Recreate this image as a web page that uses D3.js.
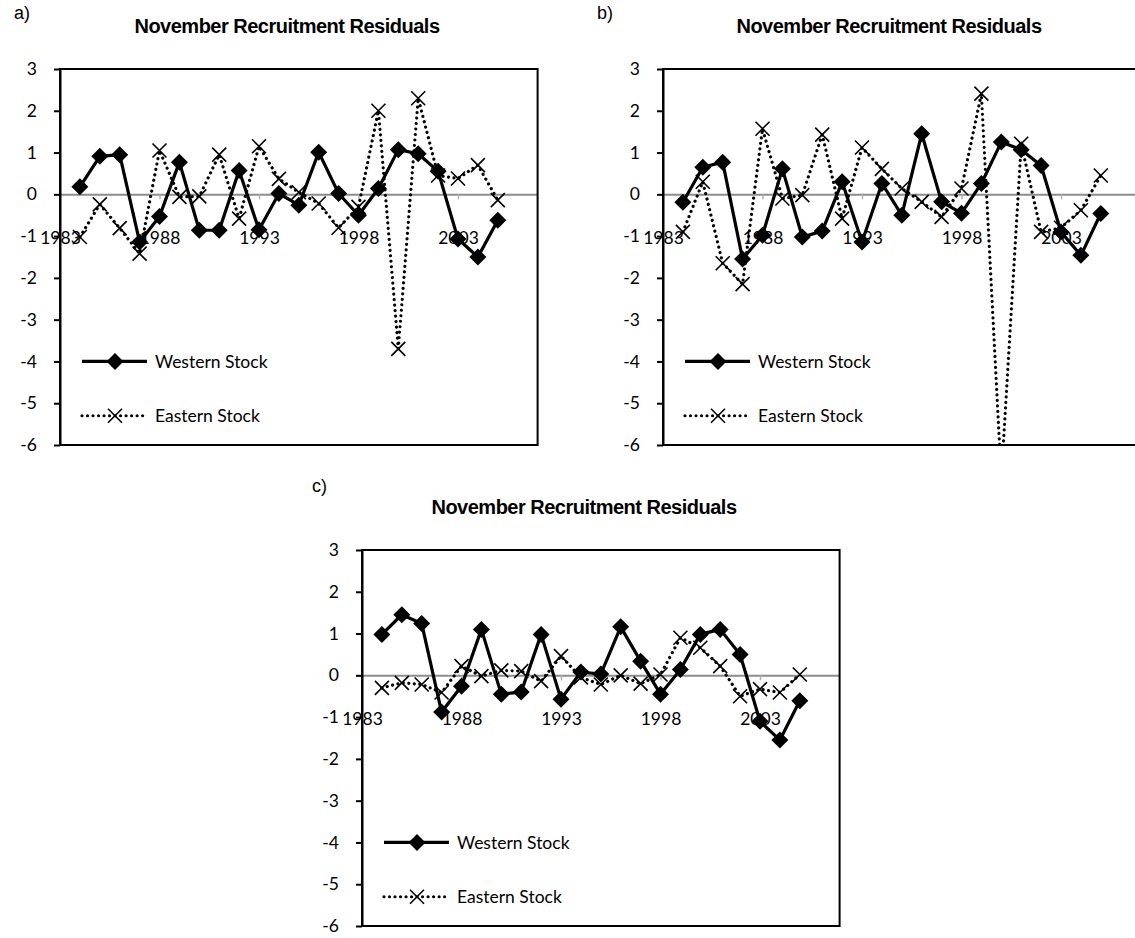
<!DOCTYPE html>
<html><head><meta charset="utf-8">
<script src="https://cdn.jsdelivr.net/npm/d3@7"></script>
<style>
html,body{margin:0;padding:0;background:#fff;}
svg{display:block;}
.tick text{font-family:Lato,"Open Sans",sans-serif;font-size:17.5px;fill:#000;}
</style>
</head><body>
<svg id="chart" width="1135" height="938"></svg>
<script>
// ---- data ----
const years = [1984,1985,1986,1987,1988,1989,1990,1991,1992,1993,1994,1995,1996,1997,1998,1999,2000,2001,2002,2003,2004,2005];
const tickYears = [1983,1988,1993,1998,2003];
const yTicks = [3,2,1,0,-1,-2,-3,-4,-5,-6];
const seriesNames = ["Western Stock","Eastern Stock"];
const panelLabels = ["a)","b)","c)"];
const chartTitle = "November Recruitment Residuals";

const westA = [0.18,0.91,0.95,-1.14,-0.53,0.77,-0.86,-0.86,0.57,-0.85,0.02,-0.26,1.01,0.02,-0.50,0.14,1.07,0.97,0.55,-1.07,-1.50,-0.62];
const eastA = [-1.02,-0.24,-0.81,-1.42,1.05,-0.06,-0.05,0.95,-0.58,1.15,0.37,0.05,-0.22,-0.80,-0.30,2.00,-3.70,2.30,0.45,0.38,0.70,-0.14];

const westB = [-0.19,0.65,0.77,-1.55,-0.98,0.61,-1.02,-0.88,0.30,-1.14,0.26,-0.50,1.45,-0.18,-0.45,0.26,1.25,1.07,0.69,-0.90,-1.46,-0.46];
const eastB = [-0.90,0.30,-1.65,-2.15,1.57,-0.10,-0.02,1.43,-0.58,1.12,0.61,0.14,-0.18,-0.54,0.14,2.41,-6.80,1.21,-0.90,-0.80,-0.38,0.45];

const westC = [0.98,1.45,1.24,-0.88,-0.26,1.10,-0.45,-0.40,0.98,-0.57,0.08,0.03,1.16,0.34,-0.45,0.14,0.98,1.10,0.50,-1.10,-1.55,-0.61];
const eastC = [-0.30,-0.18,-0.22,-0.41,0.22,-0.02,0.12,0.10,-0.14,0.46,-0.05,-0.22,0.00,-0.20,0.02,0.90,0.66,0.22,-0.50,-0.33,-0.41,0.02];

// ---- layout ----
const svg = d3.select("#chart");
const panels = [
  {label:panelLabels[0], lx:14, ly:19, tx:287, ty:33, ax:60,  top:69,  west:westA, east:eastA},
  {label:panelLabels[1], lx:597, ly:19, tx:889, ty:33, ax:663, top:69,  west:westB, east:eastB},
  {label:panelLabels[2], lx:312, ly:492, tx:584, ty:514, ax:362, top:550, west:westC, east:eastC}
];
const plotW = 477.6, plotH = 376;

function diamond(s){return `M0,${-s}L${s},0L0,${s}L${-s},0Z`;}
function cross(s){return `M${-s},${-s}L${s},${s}M${-s},${s}L${s},${-s}`;}

panels.forEach((p,i)=>{
  const g = svg.append("g");
  const x = d3.scaleLinear().domain([1983,2007]).range([p.ax, p.ax+plotW]);
  const y = d3.scaleLinear().domain([-6,3]).range([p.top+plotH, p.top]);

  g.append("text").attr("x",p.lx).attr("y",p.ly)
    .attr("font-family","Liberation Sans, Arial, sans-serif").attr("font-size",18).text(p.label);
  g.append("text").attr("x",p.tx).attr("y",p.ty).attr("text-anchor","middle")
    .attr("font-family","Liberation Sans, Arial, sans-serif").attr("font-weight","bold")
    .attr("font-size",20).attr("letter-spacing","-0.5").text(chartTitle);

  // x axis at zero (grey)
  const xa = g.append("g").attr("transform",`translate(0,${y(0)})`)
    .call(d3.axisBottom(x).tickValues(tickYears).tickFormat(d=>String(d)).tickSize(5).tickSizeOuter(0).tickPadding(32));
  xa.select(".domain").attr("stroke","#8c8c8c").attr("stroke-width",2);
  xa.selectAll(".tick line").attr("stroke","#b0b0b0").attr("stroke-width",1.5);

  // frame
  g.append("rect").attr("x",p.ax).attr("y",p.top).attr("width",plotW).attr("height",plotH)
    .attr("fill","none").attr("stroke","#000").attr("stroke-width",2);

  // y axis
  const ya = g.append("g").attr("transform",`translate(${p.ax},0)`)
    .call(d3.axisLeft(y).tickValues(yTicks).tickFormat(d=>String(d)).tickSize(6).tickSizeOuter(0).tickPadding(17));
  ya.select(".domain").attr("stroke","#000").attr("stroke-width",2);
  ya.selectAll(".tick line").attr("stroke","#000").attr("stroke-width",2);

  // clip
  const cid = "clip"+i;
  svg.append("clipPath").attr("id",cid).append("rect")
    .attr("x",p.ax-12).attr("y",p.top-12).attr("width",plotW+24).attr("height",plotH+12);
  const dg = g.append("g").attr("clip-path",`url(#${cid})`);

  const line = d3.line().x((d,j)=>x(years[j])).y(d=>y(d));

  // Western
  dg.append("path").datum(p.west).attr("d",line).attr("fill","none")
    .attr("stroke","#000").attr("stroke-width",3.2).attr("stroke-linejoin","round");
  dg.selectAll(".wm").data(p.west).enter().append("path")
    .attr("transform",(d,j)=>`translate(${x(years[j])},${y(d)})`)
    .attr("d",diamond(8.5)).attr("fill","#000");

  // Eastern
  dg.append("path").datum(p.east).attr("d",line).attr("fill","none")
    .attr("stroke","#000").attr("stroke-width",3.2).attr("stroke-linecap","round")
    .attr("stroke-dasharray","0.01,5.5");
  dg.selectAll(".em").data(p.east).enter().append("path")
    .attr("transform",(d,j)=>`translate(${x(years[j])},${y(d)})`)
    .attr("d",cross(7)).attr("fill","none").attr("stroke","#000").attr("stroke-width",1.6);

  // legend
  const ly1 = y(-4), ly2 = y(-5.3);
  const l0 = p.ax+22, l1 = p.ax+87, lm = p.ax+55, lt = p.ax+95;
  g.append("line").attr("x1",l0).attr("x2",l1).attr("y1",ly1).attr("y2",ly1)
    .attr("stroke","#000").attr("stroke-width",3.2);
  g.append("path").attr("transform",`translate(${lm},${ly1})`).attr("d",diamond(8.5)).attr("fill","#000");
  g.append("text").attr("x",lt).attr("y",ly1).attr("dy","0.35em")
    .attr("font-family","Lato, 'Open Sans', sans-serif").attr("font-size",17.5).text(seriesNames[0]);
  g.append("line").attr("x1",l0).attr("x2",l1).attr("y1",ly2).attr("y2",ly2)
    .attr("stroke","#000").attr("stroke-width",3.2).attr("stroke-linecap","round").attr("stroke-dasharray","0.01,5.5");
  g.append("path").attr("transform",`translate(${lm},${ly2})`).attr("d",cross(7))
    .attr("fill","none").attr("stroke","#000").attr("stroke-width",1.6);
  g.append("text").attr("x",lt).attr("y",ly2).attr("dy","0.35em")
    .attr("font-family","Lato, 'Open Sans', sans-serif").attr("font-size",17.5).text(seriesNames[1]);
});
</script>
</body></html>
